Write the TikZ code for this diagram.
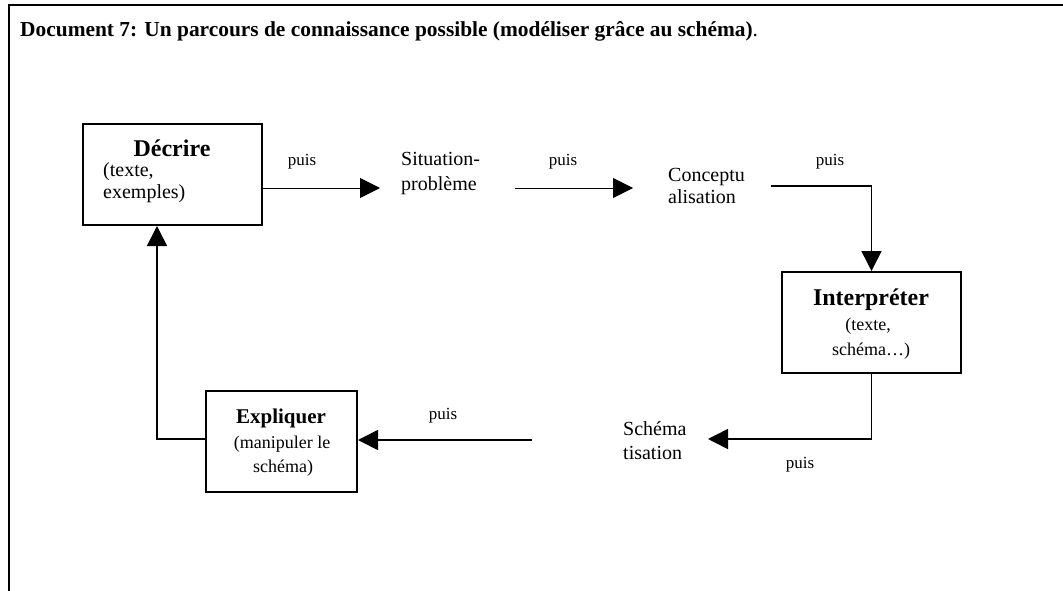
\documentclass[tikz,border=0pt]{standalone}
\usepackage{fontspec}
\setmainfont{Liberation Serif}
\usetikzlibrary{arrows.meta}
\begin{document}
\begin{tikzpicture}[x=1pt,y=-1pt,
  box/.style={draw,line width=2pt,inner sep=0pt},
  lbl/.style={inner sep=0pt,font=\fontsize{20}{24}\selectfont},
  lblsm/.style={inner sep=0pt,font=\fontsize{18}{22}\selectfont},
  head/.style={inner sep=0pt,font=\fontsize{24}{28}\selectfont\bfseries},
  headsm/.style={inner sep=0pt,font=\fontsize{21}{25}\selectfont\bfseries},
  puis/.style={inner sep=0pt,anchor=base,font=\fontsize{17}{20}\selectfont},
  conn/.style={line width=1.6pt,-{Triangle[length=20pt,width=20pt]}},
  connthin/.style={line width=1pt,-{Triangle[length=20pt,width=20pt]}}
]
\useasboundingbox (0,0) rectangle (1063,591);

% frame around the document
\draw[line width=2pt] (9,591) -- (9,5) -- (1063,5);

% title
\node[inner sep=0pt,anchor=base west,font=\fontsize{21.4}{26}\selectfont] (title) at (20,37)
  {\textbf{Document 7: Un parcours de connaissance possible (modéliser grâce au schéma)}.};

% boxes
\node[box,minimum width=179pt,minimum height=101pt] (decrire) at (172.5,174.5) {};
\node[box,minimum width=179pt,minimum height=101pt] (interp) at (871.5,322.5) {};
\node[box,minimum width=151pt,minimum height=101pt] (expl) at (281.5,441.5) {};

% box texts
\node[head,anchor=base] (decrireT) at (172,157) {Décrire};
\node[lbl,anchor=base west] (decrireA) at (103,176) {(texte,};
\node[lbl,anchor=base west] (decrireB) at (103,198) {exemples)};

\node[head,anchor=base] (interpT) at (871,305) {Interpréter};
\node[lblsm,anchor=base] (interpA) at (868,330) {(texte,};
\node[lblsm,anchor=base] (interpB) at (871,355) {schéma…)};

\node[headsm,anchor=base] (explT) at (281,423) {Expliquer};
\node[lblsm,anchor=base] (explA) at (282,448) {(manipuler le};
\node[lblsm,anchor=base] (explB) at (283,472) {schéma)};

% free-standing steps
\node[lbl,anchor=base west] (sitA) at (401,165) {Situation-};
\node[lbl,anchor=base west] (sitB) at (401,190) {problème};
\node[lbl,anchor=base west] (concA) at (668,182) {Conceptu};
\node[lbl,anchor=base west] (concB) at (668,203) {alisation};
\node[lbl,anchor=base west] (schA) at (623,435) {Schéma};
\node[lbl,anchor=base west] (schB) at (623,459) {tisation};

% "puis" labels
\node[puis] (p1) at (302,165) {puis};
\node[puis] (p2) at (563,166) {puis};
\node[puis] (p3) at (830,165) {puis};
\node[puis] (p4) at (800,468) {puis};
\node[puis] (p5) at (443,419) {puis};

% connector end points
\coordinate (a1) at (380,188);
\coordinate (a2s) at (515,188);
\coordinate (a2e) at (633,188);
\coordinate (a3s) at (771,186);
\coordinate (a4) at (708,439);
\coordinate (a5) at (532,440);
\coordinate (a6) at (157,439);

% connectors
\draw[connthin] (decrire.east |- a1) -- (a1);
\draw[connthin] (a2s) -- (a2e);
\draw[conn] (a3s) -- (interp.north |- a3s) -- (interp.north);
\draw[conn] (interp.south) -- (interp.south |- a4) -- (a4);
\draw[conn] (a5) -- (expl.east |- a5);
\draw[conn] (expl.west |- a6) -- (a6) -- (decrire.south -| a6);
\end{tikzpicture}
\end{document}
